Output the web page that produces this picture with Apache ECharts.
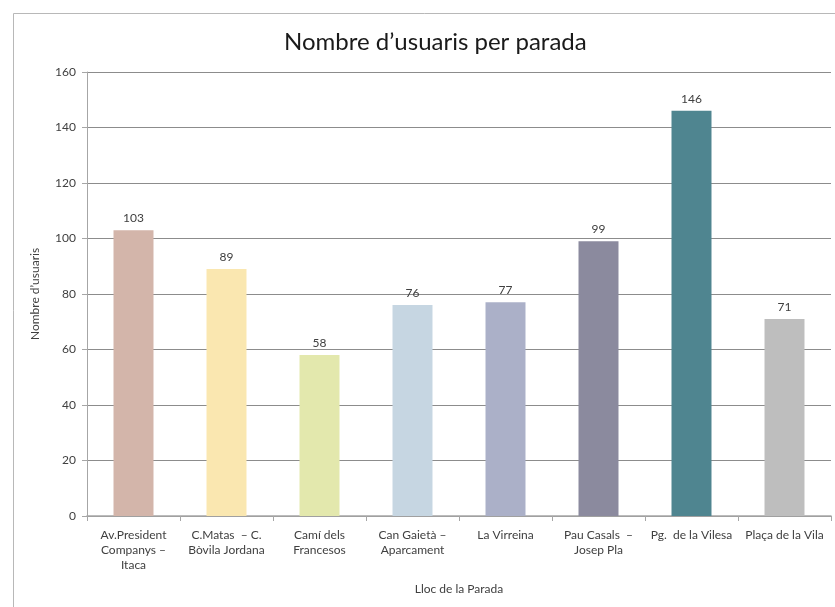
<!DOCTYPE html>
<html>
<head>
<meta charset="utf-8">
<script src="https://cdn.jsdelivr.net/npm/echarts@6/dist/echarts.min.js"></script>
<style>
  html, body { margin: 0; padding: 0; background: #fff; }
  #chart { width: 835px; height: 607px; }
</style>
</head>
<body>
<div id="chart"></div>
<script>
// stops and their user counts
const parades = [
  'Av.President\nCompanys –\nItaca',
  'C.Matas  – C.\nBòvila Jordana',
  'Camí dels\nFrancesos',
  'Can Gaietà –\nAparcament',
  'La Virreina',
  'Pau Casals  –\nJosep Pla',
  'Pg.  de la Vilesa',
  'Plaça de la Vila'
];
const usuaris = [103, 89, 58, 76, 77, 99, 146, 71];
const colors = ['#d3b5aa', '#fae7b0', '#e3e8ad', '#c6d6e2', '#abb0c8', '#8b8a9e', '#4f8590', '#bebebe'];
const yTicks = { min: 0, max: 160, interval: 20 };

const font = 'Lato, "Open Sans", sans-serif';
const textColor = '#404040';

const chart = echarts.init(document.getElementById('chart'));

chart.setOption({
  animation: false,
  backgroundColor: '#fff',
  graphic: [{
    type: 'rect',
    shape: { x: 13.5, y: 13.5, width: 840, height: 620 },
    style: { fill: 'none', stroke: '#b8b8b8', lineWidth: 1 },
    silent: true
  }],
  title: {
    text: 'Nombre d’usuaris per parada',
    left: 279,
    top: 25,
    textStyle: { fontFamily: font, fontSize: 24, fontWeight: 'normal', color: '#1a1a1a' }
  },
  grid: { left: 87, right: 4, top: 72, bottom: 91, containLabel: false },
  xAxis: {
    type: 'category',
    data: parades,
    name: 'Lloc de la Parada',
    nameLocation: 'middle',
    nameGap: 67,
    nameTextStyle: { fontFamily: font, fontSize: 12, color: textColor },
    axisLine: { lineStyle: { color: '#a6a6a6', width: 1.5 } },
    axisTick: { show: true, length: 5, lineStyle: { color: '#a6a6a6' } },
    axisLabel: {
      interval: 0,
      margin: 12,
      fontFamily: font,
      fontSize: 12,
      lineHeight: 15,
      color: textColor
    }
  },
  yAxis: {
    type: 'value',
    min: yTicks.min,
    max: yTicks.max,
    interval: yTicks.interval,
    name: 'Nombre d’usuaris',
    nameLocation: 'middle',
    nameGap: 46,
    nameTextStyle: { fontFamily: font, fontSize: 12, color: textColor },
    axisLine: { show: true, lineStyle: { color: '#a6a6a6' } },
    axisTick: { show: true, length: 5, lineStyle: { color: '#a6a6a6' } },
    axisLabel: { fontFamily: font, fontSize: 12, color: textColor, margin: 11 },
    splitLine: { lineStyle: { color: '#8c8c8c', width: 1 } }
  },
  series: [{
    type: 'bar',
    data: usuaris.map((v, i) => ({ value: v, itemStyle: { color: colors[i] } })),
    barCategoryGap: '57%',
    label: {
      show: true,
      position: 'top',
      distance: 6,
      fontFamily: font,
      fontSize: 12,
      color: textColor
    }
  }]
});
</script>
</body>
</html>
